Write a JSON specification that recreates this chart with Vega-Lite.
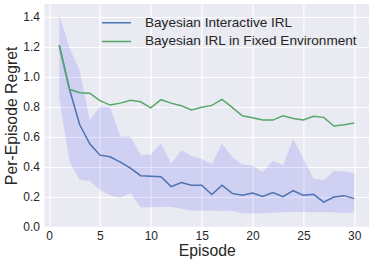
{
  "$schema": "https://vega.github.io/schema/vega-lite/v6.json",
  "width": 324.5,
  "height": 222.7,
  "autosize": "none",
  "padding": {"left": 44.5, "top": 4, "right": 5, "bottom": 38},
  "background": "white",
  "config": {
    "view": {"fill": "#EAEAF2", "stroke": null},
    "axis": {
      "grid": true,
      "gridColor": "white",
      "gridWidth": 1.2,
      "domain": false,
      "ticks": false,
      "tickSize": 0,
      "labelOverlap": false,
      "labelFont": "Liberation Sans",
      "labelFontSize": 12,
      "labelColor": "#262626",
      "titleFont": "Liberation Sans",
      "titleFontSize": 15.8,
      "titleFontWeight": "normal",
      "titleColor": "#262626"
    }
  },
  "datasets": {
    "band": [
      {"episode": 1, "lower": 0.858, "upper": 1.412},
      {"episode": 2, "lower": 0.433, "upper": 1.195},
      {"episode": 3, "lower": 0.313, "upper": 1.044},
      {"episode": 4, "lower": 0.304, "upper": 0.711},
      {"episode": 5, "lower": 0.243, "upper": 0.802},
      {"episode": 6, "lower": 0.211, "upper": 0.797},
      {"episode": 7, "lower": 0.191, "upper": 0.602},
      {"episode": 8, "lower": 0.225, "upper": 0.6},
      {"episode": 9, "lower": 0.128, "upper": 0.478},
      {"episode": 10, "lower": 0.129, "upper": 0.48},
      {"episode": 11, "lower": 0.133, "upper": 0.557},
      {"episode": 12, "lower": 0.131, "upper": 0.422},
      {"episode": 13, "lower": 0.12, "upper": 0.509},
      {"episode": 14, "lower": 0.108, "upper": 0.472},
      {"episode": 15, "lower": 0.107, "upper": 0.452},
      {"episode": 16, "lower": 0.107, "upper": 0.418},
      {"episode": 17, "lower": 0.104, "upper": 0.553},
      {"episode": 18, "lower": 0.107, "upper": 0.464},
      {"episode": 19, "lower": 0.089, "upper": 0.414},
      {"episode": 20, "lower": 0.089, "upper": 0.408},
      {"episode": 21, "lower": 0.09, "upper": 0.365},
      {"episode": 22, "lower": 0.093, "upper": 0.439},
      {"episode": 23, "lower": 0.096, "upper": 0.409},
      {"episode": 24, "lower": 0.098, "upper": 0.585},
      {"episode": 25, "lower": 0.098, "upper": 0.455},
      {"episode": 26, "lower": 0.096, "upper": 0.322},
      {"episode": 27, "lower": 0.096, "upper": 0.311},
      {"episode": 28, "lower": 0.096, "upper": 0.372},
      {"episode": 29, "lower": 0.089, "upper": 0.37},
      {"episode": 30, "lower": 0.096, "upper": 0.358}
    ],
    "lines": [
      {"episode": 1, "method": "Bayesian Interactive IRL", "regret": 1.21},
      {"episode": 2, "method": "Bayesian Interactive IRL", "regret": 0.918},
      {"episode": 3, "method": "Bayesian Interactive IRL", "regret": 0.681},
      {"episode": 4, "method": "Bayesian Interactive IRL", "regret": 0.553},
      {"episode": 5, "method": "Bayesian Interactive IRL", "regret": 0.477},
      {"episode": 6, "method": "Bayesian Interactive IRL", "regret": 0.466},
      {"episode": 7, "method": "Bayesian Interactive IRL", "regret": 0.43},
      {"episode": 8, "method": "Bayesian Interactive IRL", "regret": 0.39},
      {"episode": 9, "method": "Bayesian Interactive IRL", "regret": 0.34},
      {"episode": 10, "method": "Bayesian Interactive IRL", "regret": 0.337},
      {"episode": 11, "method": "Bayesian Interactive IRL", "regret": 0.333},
      {"episode": 12, "method": "Bayesian Interactive IRL", "regret": 0.267},
      {"episode": 13, "method": "Bayesian Interactive IRL", "regret": 0.294},
      {"episode": 14, "method": "Bayesian Interactive IRL", "regret": 0.276},
      {"episode": 15, "method": "Bayesian Interactive IRL", "regret": 0.277},
      {"episode": 16, "method": "Bayesian Interactive IRL", "regret": 0.214},
      {"episode": 17, "method": "Bayesian Interactive IRL", "regret": 0.277},
      {"episode": 18, "method": "Bayesian Interactive IRL", "regret": 0.222},
      {"episode": 19, "method": "Bayesian Interactive IRL", "regret": 0.21},
      {"episode": 20, "method": "Bayesian Interactive IRL", "regret": 0.225},
      {"episode": 21, "method": "Bayesian Interactive IRL", "regret": 0.202},
      {"episode": 22, "method": "Bayesian Interactive IRL", "regret": 0.227},
      {"episode": 23, "method": "Bayesian Interactive IRL", "regret": 0.2},
      {"episode": 24, "method": "Bayesian Interactive IRL", "regret": 0.24},
      {"episode": 25, "method": "Bayesian Interactive IRL", "regret": 0.209},
      {"episode": 26, "method": "Bayesian Interactive IRL", "regret": 0.216},
      {"episode": 27, "method": "Bayesian Interactive IRL", "regret": 0.164},
      {"episode": 28, "method": "Bayesian Interactive IRL", "regret": 0.198},
      {"episode": 29, "method": "Bayesian Interactive IRL", "regret": 0.207},
      {"episode": 30, "method": "Bayesian Interactive IRL", "regret": 0.187},
      {"episode": 1, "method": "Bayesian IRL in Fixed Environment", "regret": 1.21},
      {"episode": 2, "method": "Bayesian IRL in Fixed Environment", "regret": 0.916},
      {"episode": 3, "method": "Bayesian IRL in Fixed Environment", "regret": 0.893},
      {"episode": 4, "method": "Bayesian IRL in Fixed Environment", "regret": 0.89},
      {"episode": 5, "method": "Bayesian IRL in Fixed Environment", "regret": 0.841},
      {"episode": 6, "method": "Bayesian IRL in Fixed Environment", "regret": 0.811},
      {"episode": 7, "method": "Bayesian IRL in Fixed Environment", "regret": 0.824},
      {"episode": 8, "method": "Bayesian IRL in Fixed Environment", "regret": 0.843},
      {"episode": 9, "method": "Bayesian IRL in Fixed Environment", "regret": 0.833},
      {"episode": 10, "method": "Bayesian IRL in Fixed Environment", "regret": 0.793},
      {"episode": 11, "method": "Bayesian IRL in Fixed Environment", "regret": 0.847},
      {"episode": 12, "method": "Bayesian IRL in Fixed Environment", "regret": 0.824},
      {"episode": 13, "method": "Bayesian IRL in Fixed Environment", "regret": 0.806},
      {"episode": 14, "method": "Bayesian IRL in Fixed Environment", "regret": 0.779},
      {"episode": 15, "method": "Bayesian IRL in Fixed Environment", "regret": 0.796},
      {"episode": 16, "method": "Bayesian IRL in Fixed Environment", "regret": 0.809},
      {"episode": 17, "method": "Bayesian IRL in Fixed Environment", "regret": 0.849},
      {"episode": 18, "method": "Bayesian IRL in Fixed Environment", "regret": 0.796},
      {"episode": 19, "method": "Bayesian IRL in Fixed Environment", "regret": 0.74},
      {"episode": 20, "method": "Bayesian IRL in Fixed Environment", "regret": 0.727},
      {"episode": 21, "method": "Bayesian IRL in Fixed Environment", "regret": 0.711},
      {"episode": 22, "method": "Bayesian IRL in Fixed Environment", "regret": 0.711},
      {"episode": 23, "method": "Bayesian IRL in Fixed Environment", "regret": 0.74},
      {"episode": 24, "method": "Bayesian IRL in Fixed Environment", "regret": 0.722},
      {"episode": 25, "method": "Bayesian IRL in Fixed Environment", "regret": 0.711},
      {"episode": 26, "method": "Bayesian IRL in Fixed Environment", "regret": 0.736},
      {"episode": 27, "method": "Bayesian IRL in Fixed Environment", "regret": 0.729},
      {"episode": 28, "method": "Bayesian IRL in Fixed Environment", "regret": 0.671},
      {"episode": 29, "method": "Bayesian IRL in Fixed Environment", "regret": 0.68},
      {"episode": 30, "method": "Bayesian IRL in Fixed Environment", "regret": 0.691}
    ]
  },
  "layer": [
    {
      "data": {"name": "band"},
      "mark": {"type": "area", "color": "#0000ff", "opacity": 0.11},
      "encoding": {
        "x": {
          "field": "episode",
          "type": "quantitative",
          "scale": {"domain": [-0.45, 31.45], "nice": false, "zero": false},
          "axis": {"values": [0, 5, 10, 15, 20, 25, 30], "title": "Episode", "labelPadding": 4, "titlePadding": 2, "labelFlush": false}
        },
        "y": {
          "field": "lower",
          "type": "quantitative",
          "scale": {"domain": [0, 1.485], "nice": false},
          "axis": {"values": [0, 0.2, 0.4, 0.6, 0.8, 1.0, 1.2, 1.4], "format": ".1f", "title": "Per-Episode Regret", "labelPadding": 5, "titlePadding": 3, "labelFlush": false}
        },
        "y2": {"field": "upper"}
      }
    },
    {
      "data": {"name": "lines"},
      "mark": {"type": "line", "strokeWidth": 1.5},
      "encoding": {
        "x": {
          "field": "episode",
          "type": "quantitative",
          "axis": {"values": [0, 5, 10, 15, 20, 25, 30], "title": "Episode", "labelPadding": 4, "titlePadding": 2, "labelFlush": false}
        },
        "y": {
          "field": "regret",
          "type": "quantitative",
          "axis": {"values": [0, 0.2, 0.4, 0.6, 0.8, 1.0, 1.2, 1.4], "format": ".1f", "title": "Per-Episode Regret", "labelPadding": 5, "titlePadding": 3, "labelFlush": false}
        },
        "color": {
          "field": "method",
          "type": "nominal",
          "scale": {"domain": ["Bayesian Interactive IRL", "Bayesian IRL in Fixed Environment"], "range": ["#4C72B0", "#55A868"]},
          "legend": {
            "title": null,
            "orient": "none",
            "legendX": 56.5,
            "legendY": 10.7,
            "symbolType": "stroke",
            "symbolSize": 841,
            "symbolStrokeWidth": 1.5,
            "labelFontSize": 13.6,
            "labelFont": "Liberation Sans",
            "labelColor": "#262626",
            "labelOffset": 13,
            "labelLimit": 400,
            "rowPadding": 2.7,
            "clipHeight": 16,
            "padding": 0
          }
        }
      }
    }
  ]
}
